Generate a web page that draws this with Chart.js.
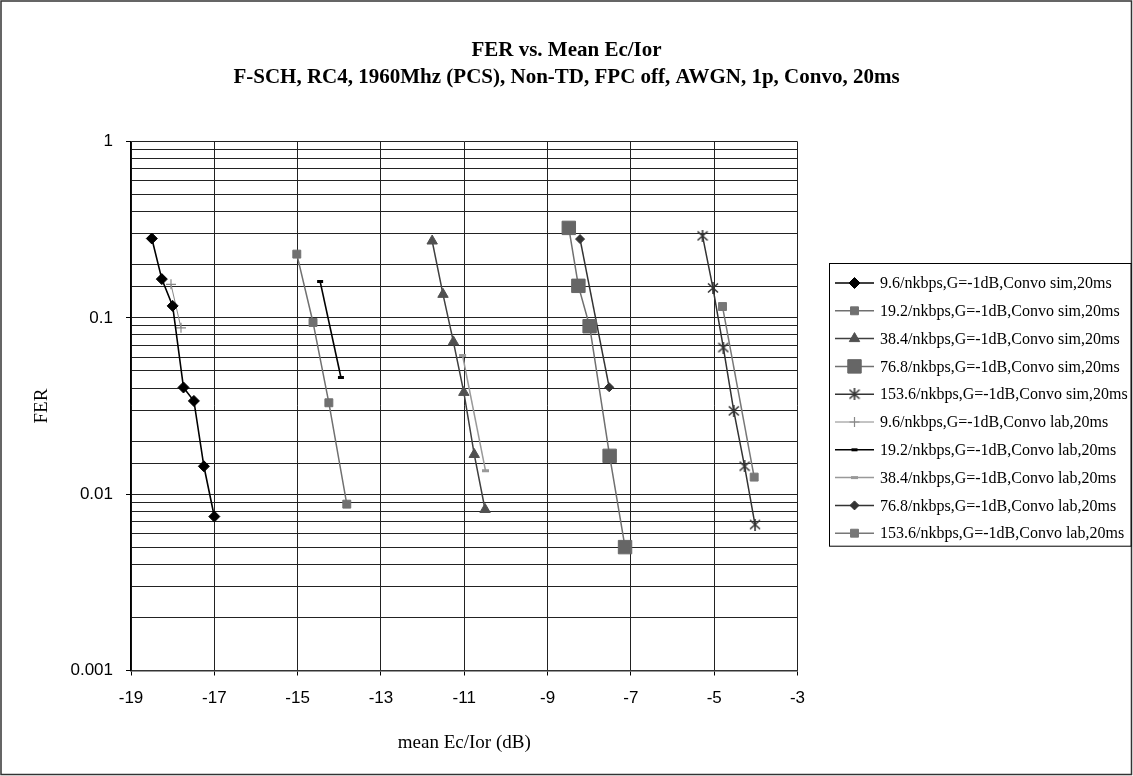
<!DOCTYPE html>
<html><head><meta charset="utf-8">
<script src="https://cdn.jsdelivr.net/npm/chart.js@4.4.1/dist/chart.umd.min.js"></script>
<style>html,body{margin:0;padding:0;background:#fff}#wrap{width:1133px;height:776px}</style>
</head><body><div id="wrap"><canvas id="c" width="1133" height="776"></canvas></div>
<script>
// ---------- data ----------
const titleLines = ['FER vs. Mean Ec/Ior', 'F-SCH, RC4, 1960Mhz (PCS), Non-TD, FPC off, AWGN, 1p, Convo, 20ms'];
const xAxisTitle = 'mean Ec/Ior (dB)';
const yAxisTitle = 'FER';
const yTickLabels = ['0.001', '0.01', '0.1', '1'];
const seriesLabels = [
  '9.6/nkbps,G=-1dB,Convo sim,20ms',
  '19.2/nkbps,G=-1dB,Convo sim,20ms',
  '38.4/nkbps,G=-1dB,Convo sim,20ms',
  '76.8/nkbps,G=-1dB,Convo sim,20ms',
  '153.6/nkbps,G=-1dB,Convo sim,20ms',
  '9.6/nkbps,G=-1dB,Convo lab,20ms',
  '19.2/nkbps,G=-1dB,Convo lab,20ms',
  '38.4/nkbps,G=-1dB,Convo lab,20ms',
  '76.8/nkbps,G=-1dB,Convo lab,20ms',
  '153.6/nkbps,G=-1dB,Convo lab,20ms'
];
const x96sim = [-18.50, -18.26, -18.00, -17.74, -17.49, -17.25, -17.00];
const y96sim = [0.282, 0.166, 0.117, 0.0403, 0.0338, 0.0144, 0.00747];
const x192sim = [-15.02, -14.63, -14.25, -13.82];
const y192sim = [0.230, 0.0942, 0.0330, 0.00878];
const x384sim = [-11.77, -11.51, -11.26, -11.01, -10.76, -10.50];
const y384sim = [0.273, 0.136, 0.0731, 0.0378, 0.0168, 0.00819];
const x768sim = [-8.49, -8.26, -7.99, -7.51, -7.14];
const y768sim = [0.324, 0.152, 0.0897, 0.0165, 0.00501];
const x1536sim = [-5.28, -5.03, -4.78, -4.53, -4.27, -4.02];
const y1536sim = [0.292, 0.148, 0.0679, 0.0297, 0.0144, 0.00673];
const x96lab = [-18.04, -17.80];
const y96lab = [0.155, 0.0878];
const x192lab = [-14.46, -13.96];
const y192lab = [0.161, 0.0459];
const x384lab = [-11.04, -10.49];
const y384lab = [0.0612, 0.0136];
const x768lab = [-8.22, -7.52];
const y768lab = [0.280, 0.0404];
const x1536lab = [-4.80, -4.04];
const y1536lab = [0.116, 0.0125];

const xs = [x96sim, x192sim, x384sim, x768sim, x1536sim, x96lab, x192lab, x384lab, x768lab, x1536lab];
const ys = [y96sim, y192sim, y384sim, y768sim, y1536sim, y96lab, y192lab, y384lab, y768lab, y1536lab];

// ---------- styles ----------
function makeAsterisk(color, size) {
  const c = document.createElement('canvas');
  c.width = size; c.height = size;
  const g = c.getContext('2d');
  g.strokeStyle = color; g.lineWidth = 1.6; g.lineCap = 'butt';
  g.beginPath();
  g.moveTo(1, 1.5); g.lineTo(size - 1, size - 1.5);
  g.moveTo(size - 1, 1.5); g.lineTo(1, size - 1.5);
  g.moveTo(size / 2, 0); g.lineTo(size / 2, size);
  g.stroke();
  return c;
}
const asterisk = makeAsterisk('#333', 12);

const styles = [
  {line: '#000', w: 1.6, ps: 'rectRot', r: 5.5, fill: '#000', stroke: '#000', pbw: 1},
  {line: '#707070', w: 1.5, ps: 'rect', r: 5.6, fill: '#707070', stroke: '#707070', pbw: 1},
  {line: '#404040', w: 1.5, ps: 'triangle', r: 6, fill: '#505050', stroke: '#505050', pbw: 1},
  {line: '#707070', w: 1.5, ps: 'rect', r: 9.5, fill: '#666', stroke: '#666', pbw: 1},
  {line: '#333', w: 1.5, ps: asterisk, r: 6, fill: '#333', stroke: '#333', pbw: 1},
  {line: '#888', w: 1, ps: 'cross', r: 5, fill: '#888', stroke: '#888', pbw: 1.2},
  {line: '#000', w: 1.6, ps: 'line', r: 3, fill: '#000', stroke: '#000', pbw: 3},
  {line: '#999', w: 1.5, ps: 'line', r: 3.5, fill: '#999', stroke: '#999', pbw: 3},
  {line: '#333', w: 1.5, ps: 'rectRot', r: 4.5, fill: '#333', stroke: '#333', pbw: 1},
  {line: '#777', w: 1.5, ps: 'rect', r: 5.6, fill: '#777', stroke: '#777', pbw: 1}
];

const datasets = seriesLabels.map((lab, i) => ({
  label: lab,
  data: xs[i].map((x, j) => ({x: x, y: ys[i][j]})),
  xAxisID: 'x',
  yAxisID: 'y',
  showLine: true,
  tension: 0,
  fill: false,
  borderColor: styles[i].line,
  borderWidth: styles[i].w,
  pointStyle: styles[i].ps,
  pointRadius: styles[i].r,
  pointHoverRadius: styles[i].r,
  pointBackgroundColor: styles[i].fill,
  pointBorderColor: styles[i].stroke,
  pointBorderWidth: styles[i].pbw
}));

function isMajor(v) {
  const l = Math.log10(v);
  return Math.abs(l - Math.round(l)) < 1e-6;
}

const frame = {
  id: 'frame',
  beforeDraw(chart) {
    const ctx = chart.ctx;
    ctx.save();
    ctx.fillStyle = '#fff';
    ctx.fillRect(0, 0, chart.width, chart.height);
    ctx.restore();
  },
  afterDraw(chart) {
    const ctx = chart.ctx;
    ctx.save();
    ctx.strokeStyle = '#333';
    ctx.lineWidth = 1.5;
    ctx.strokeRect(1, 1, chart.width - 2.5, chart.height - 2.5);
    ctx.restore();
  }
};

const boxLegend = {
  id: 'boxLegend',
  afterDraw(chart) {
    const ctx = chart.ctx;
    const ds = chart.data.datasets;
    const left = 829.5, top = 263.5, right = 1131;
    const firstY = 283, rowH = 27.8;
    const bottom = firstY + rowH * (ds.length - 1) + 13;
    ctx.save();
    ctx.fillStyle = '#fff';
    ctx.fillRect(left, top, right - left, bottom - top);
    ctx.strokeStyle = '#000';
    ctx.lineWidth = 1;
    ctx.strokeRect(left, top, right - left, bottom - top);
    ds.forEach((d, i) => {
      const y = firstY + i * rowH;
      ctx.strokeStyle = d.borderColor;
      ctx.lineWidth = d.borderWidth;
      ctx.beginPath();
      ctx.moveTo(835, y); ctx.lineTo(874, y);
      ctx.stroke();
      ctx.fillStyle = d.pointBackgroundColor;
      ctx.strokeStyle = d.pointBorderColor;
      ctx.lineWidth = d.pointBorderWidth;
      Chart.helpers.drawPoint(ctx, {pointStyle: d.pointStyle, radius: d.pointRadius, borderWidth: d.pointBorderWidth, rotation: 0}, 854.5, y);
      ctx.fillStyle = '#000';
      ctx.font = '16px "Liberation Serif"';
      ctx.textBaseline = 'middle';
      ctx.textAlign = 'left';
      ctx.fillText(d.label, 880, y + 1);
    });
    ctx.restore();
  }
};

new Chart(document.getElementById('c'), {
  type: 'scatter',
  data: {datasets: datasets},
  plugins: [frame, boxLegend],
  options: {
    responsive: false,
    animation: false,
    events: [],
    layout: {padding: {left: 0, right: 0, top: 0, bottom: 22}},
    plugins: {
      legend: {display: false},
      tooltip: {enabled: false},
      title: {
        display: true,
        text: titleLines,
        color: '#000',
        font: {family: '"Liberation Serif"', size: 21, weight: 'bold', lineHeight: 1.3},
        padding: {top: 37, bottom: 50}
      }
    },
    scales: {
      x: {
        type: 'linear',
        min: -19, max: -3,
        ticks: {stepSize: 2, color: '#000', font: {family: '"Liberation Sans"', size: 17}, padding: 13},
        grid: {color: '#222', lineWidth: 1, tickLength: 5, tickColor: '#000'},
        border: {color: '#333', width: 1.5},
        title: {display: true, text: xAxisTitle, color: '#000', font: {family: '"Liberation Serif"', size: 19}, padding: {top: 0, bottom: 0}},
        afterFit: (s) => { s.height = 83.5; }
      },
      y: {
        type: 'logarithmic',
        position: 'left',
        min: 0.001, max: 1,
        ticks: {
          autoSkip: false,
          color: '#000',
          font: {family: '"Liberation Sans"', size: 17},
          padding: 13,
          callback: (v) => isMajor(v) ? yTickLabels[Math.round(Math.log10(v)) + 3] : ''
        },
        grid: {
          color: '#222', lineWidth: 1, tickLength: 5,
          tickColor: (c) => (c.tick && isMajor(c.tick.value)) ? '#000' : 'rgba(0,0,0,0)'
        },
        border: {color: '#000', width: 1.5},
        title: {display: true, text: yAxisTitle, color: '#000', font: {family: '"Liberation Serif"', size: 19}, padding: {top: 31, bottom: 0}},
        afterFit: (s) => { s.width = 131; }
      },
      legendSpace: {
        type: 'linear',
        position: 'right',
        display: true,
        grid: {display: false, drawTicks: false},
        border: {display: false},
        ticks: {display: false},
        afterFit: (s) => { s.width = 335.5; }
      }
    }
  }
});
</script>
</body></html>
